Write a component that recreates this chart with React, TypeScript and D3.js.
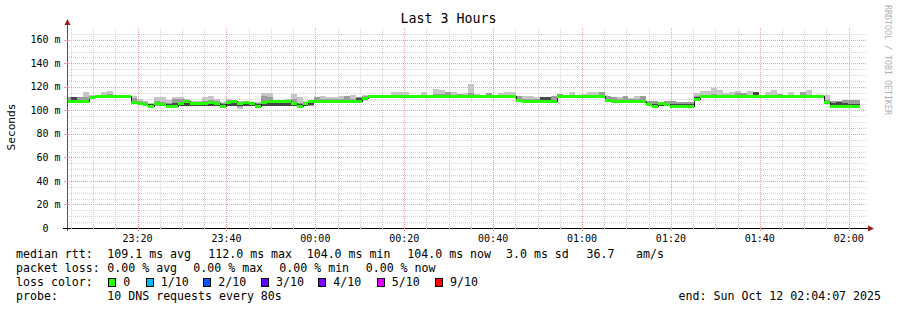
import React from 'react';
import * as d3 from 'd3';

// ---------- texts ----------
const titleText = 'Last 3 Hours';
const yAxisTitle = 'Seconds';
const creditText = 'RRDTOOL / TOBI OETIKER';

// ---------- time range ----------
const rangeStart = new Date(2025, 9, 11, 23, 4, 7);
const rangeEnd = new Date(2025, 9, 12, 2, 4, 7);
const firstStepStart = new Date(2025, 9, 11, 23, 3, 47);
const stepSeconds = 80;

// ---------- y ticks ----------
const yTickValues = [0, 20, 40, 60, 80, 100, 120, 140, 160];
const yTickLabels = ['0', '20 m', '40 m', '60 m', '80 m', '100 m', '120 m', '140 m', '160 m'];

// ---------- series (ms), one value per 80 s step ----------
const medianRtt = [
  108, 108, 108, 108, 111, 112, 112, 112, 112, 112,
  112, 107, 106, 105, 104, 106, 105, 104, 104, 106,
  108, 106, 106, 106, 107, 106, 104, 107, 108, 106,
  107, 106, 104, 107, 108, 108, 108, 108, 106, 104,
  106, 108, 108, 108, 108, 108, 108, 108, 108, 108,
  110.5, 112, 112, 112, 112, 112, 112, 112, 112, 112,
  112, 112, 112, 112, 112, 112, 112, 112, 112, 112,
  112, 112, 112, 112, 112, 112, 109, 108, 108, 108,
  108, 108, 108, 112, 112, 112, 112, 112, 112, 112,
  112, 109, 108, 108, 108, 108, 108, 108, 105, 104,
  106, 105, 104, 104, 104, 104, 110, 112, 112, 112,
  112, 112, 112, 112, 112, 112, 112, 112, 112, 112,
  112, 112, 112, 112, 112, 112, 112, 112, 107, 104,
  104, 104, 104, 104,
];

const smokeLightLo = [
  107, 107, 107, 107, 110, 111.5, 111.5, 111.5, 111.5, 111.5,
  111.5, 106, 105, 104, 103.5, 104, 104, 103.5, 103.5, 103.5,
  104, 104, 104, 104, 104, 104, 103.5, 104, 104, 101.5,
  104, 104, 103.5, 104, 104, 104, 104, 104, 104, 103.5,
  104, 104, 107, 107, 107, 107, 107, 107, 107, 107,
  108, 111.5, 111.5, 111.5, 111.5, 111.5, 111.5, 111.5, 111.5, 111.5,
  111.5, 111.5, 111.5, 111.5, 111.5, 111.5, 111.5, 111.5, 111.5, 111.5,
  111.5, 111.5, 111.5, 111.5, 111.5, 111.5, 107.5, 107, 107, 107,
  107, 107, 107, 111.5, 111.5, 111.5, 111.5, 111.5, 111.5, 111.5,
  111.5, 108, 107, 107, 107, 107, 107, 107, 104, 103.5,
  104, 104, 103.5, 103.5, 103.5, 103.5, 108, 111.5, 111.5, 111.5,
  111.5, 111.5, 111.5, 111.5, 111.5, 111.5, 111.5, 111.5, 111.5, 111.5,
  111.5, 111.5, 111.5, 111.5, 111.5, 111.5, 111.5, 111.5, 106, 103.5,
  103.5, 103.5, 103.5, 103.5,
];

const smokeLightHi = [
  111, 111.5, 111.5, 116, 113, 112.5, 115.5, 116.5, 112.5, 112.5,
  112.5, 112, 110, 108, 106, 111, 111, 109, 111.5, 111.5,
  110, 108, 108, 111.5, 112, 110, 107, 110, 109, 108,
  108, 107, 107, 115, 115, 109, 109, 110, 114, 111,
  108, 109, 111, 112, 111, 111, 112.5, 112, 113, 111,
  113, 112.5, 112.5, 112.5, 112.5, 116, 116, 116, 113, 112.5,
  116, 112.5, 118, 117, 116, 116, 114, 115, 122, 114,
  113, 115, 112.5, 115, 116, 116, 112, 112, 112, 111.5,
  111.5, 111.5, 112, 114, 112.5, 116, 112.5, 113.5, 116, 116,
  116, 112, 111.5, 111.5, 112, 110.5, 112, 112, 108, 108,
  107.5, 108, 108, 107.5, 107.5, 107.5, 115, 116.5, 116.5, 119,
  117.5, 115, 116, 116.5, 115, 116.5, 116, 112.5, 116, 117,
  114, 112.5, 116, 112.5, 115.5, 117, 112.5, 112.5, 113, 108,
  108, 108.5, 108.5, 108.5,
];

const smokeMidLo = [
  107, 107, 107, 107, 110, 111.5, 111.5, 111.5, 111.5, 111.5,
  111.5, 106, 105, 104, 103.5, 104, 104, 103.5, 103.5, 103.5,
  104, 104, 104, 104, 104, 104, 103.5, 104, 104, 103,
  104, 104, 103.5, 104, 104, 104, 104, 104, 104, 103.5,
  104, 104, 107, 107, 107, 107, 107, 107, 107, 107,
  109, 111.5, 111.5, 111.5, 111.5, 111.5, 111.5, 111.5, 111.5, 111.5,
  111.5, 111.5, 111.5, 111.5, 111.5, 111.5, 111.5, 111.5, 111.5, 111.5,
  111.5, 111.5, 111.5, 111.5, 111.5, 111.5, 108, 107, 107, 107,
  107, 107, 107, 111.5, 111.5, 111.5, 111.5, 111.5, 111.5, 111.5,
  111.5, 108, 107, 107, 107, 107, 107, 107, 104, 103.5,
  104, 104, 103.5, 103.5, 103.5, 103.5, 108.5, 111.5, 111.5, 111.5,
  111.5, 111.5, 111.5, 111.5, 111.5, 111.5, 111.5, 111.5, 111.5, 111.5,
  111.5, 111.5, 111.5, 111.5, 111.5, 111.5, 111.5, 111.5, 106, 103.5,
  103.5, 103.5, 103.5, 103.5,
];

const smokeMidHi = [
  111, 111.5, 111, 111, 112.5, 112.5, 113, 114, 112.5, 112.5,
  112.5, 110.5, 108, 107, 105.5, 108, 107, 106, 110, 110,
  109, 107, 107, 108, 109, 108, 106, 109, 108.5, 107,
  107.5, 107, 106, 112, 111, 108.5, 108.5, 109, 110, 106,
  107, 108.5, 111, 110, 109.5, 109.5, 110, 112, 110, 111,
  112, 112.5, 112.5, 112.5, 112.5, 113, 113, 113, 112.5, 112.5,
  113, 112.5, 114, 114, 116, 113, 114, 113, 115, 113,
  112.5, 115, 112.5, 113, 113, 113, 112, 110, 110, 110,
  111.5, 111.5, 112, 114, 112.5, 113, 112.5, 112.5, 113, 113,
  116, 112, 111.5, 110, 112, 109.5, 110, 112, 108, 108,
  107.5, 108, 108, 107.5, 107.5, 107.5, 112, 113, 113, 114,
  113, 113, 113, 114.5, 115, 113, 115.5, 112.5, 113, 113,
  114, 112.5, 113, 112.5, 115.5, 113, 112.5, 112.5, 109, 108,
  108, 108.5, 108.5, 108.5,
];

const smokeDarkLo = [
  107.5, 107, 107.5, 107.5, 110.5, 112, 112, 112, 112, 112,
  112, 106, 105, 104, 103.5, 104.5, 104, 103.5, 103.5, 103.5,
  104, 104, 104, 104, 104, 104, 103.5, 104, 104, 104,
  104, 104, 103.5, 104, 104, 104, 104, 104, 104, 103.5,
  104, 104.5, 107.5, 107.5, 107.5, 107.5, 107.5, 107.5, 107.5, 107,
  109.5, 112, 112, 112, 112, 112, 112, 112, 112, 112,
  112, 112, 112, 112, 112, 112, 112, 112, 112, 112,
  112, 112, 112, 112, 112, 112, 108.5, 107.5, 107.5, 107.5,
  107.5, 107.5, 107.5, 112, 112, 112, 112, 112, 112, 112,
  112, 108.5, 107.5, 107.5, 107.5, 107.5, 107.5, 107.5, 104, 103.5,
  104, 104.5, 103.5, 103.5, 103.5, 103.5, 109, 112, 112, 112,
  112, 112, 112, 112, 112, 112, 112, 112, 112, 112,
  112, 112, 112, 112, 112, 112, 112, 112, 106.5, 103.5,
  103.5, 104, 103.5, 103.5,
];

const smokeDarkHi = [
  109, 111.5, 109, 109, 111.5, 112, 112, 112, 112, 112,
  112, 108, 107, 106, 105, 107, 106, 105, 106.5, 107.5,
  108.5, 107, 107, 107, 108, 107, 105, 108, 108, 107,
  107, 106.5, 105, 108, 108.5, 108, 108, 108, 107, 105,
  106.5, 108.5, 109, 109, 109, 109, 109, 109, 109, 110.5,
  111.5, 112, 112, 112, 112, 112, 112, 112, 112, 112,
  112, 112, 112, 112, 112, 112, 112, 112, 112, 112,
  112, 112, 113, 112, 112, 112, 110, 109, 109, 109,
  111.5, 111.5, 109, 112, 112, 112, 112, 112, 112, 112,
  112, 110, 109, 109, 109, 109, 109, 109, 106.5, 105,
  107, 106, 105, 105, 105, 105, 111, 112, 112, 112,
  112, 112, 112, 112, 112, 112, 115.5, 112, 112, 112,
  112, 112, 112, 112, 112, 112, 112, 112, 108, 106,
  107, 106, 105, 105,
];

// ---------- legend ----------
const rttLabel = 'median rtt:';
const rttStats = ['109.1 ms avg', '112.0 ms max', '104.0 ms min', '104.0 ms now', '3.0 ms sd', '36.7', 'am/s'];
const lossLabel = 'packet loss:';
const lossStats = ['0.00 % avg', '0.00 % max', '0.00 % min', '0.00 % now'];
const lossColorLabel = 'loss color:';
const lossLabels = ['0', '1/10', '2/10', '3/10', '4/10', '5/10', '9/10'];
const lossColors = ['#26ff00', '#00b8ff', '#0059ff', '#5e00ff', '#7e00ff', '#dd00ff', '#ff0000'];
const probeLabel = 'probe:';
const probeText = '10 DNS requests every 80s';
const endText = 'end: Sun Oct 12 02:04:07 2025';

// ---------- layout (pixels) ----------
const W = 897;
const H = 310;
const PL = 67, PR = 867, PT = 28, PB = 228;
const RTT_X = [107.3, 208.3, 306.7, 407.3, 506, 586.5, 636];
const LOSS_X = [107.3, 193.3, 279.3, 365.7];
const BOX_X = [108.3, 145.7, 203.3, 261, 318.3, 376.7, 435];
const MONO = 'DejaVu Sans Mono';

export default function App() {
  const x = d3.scaleTime().domain([rangeStart, rangeEnd]).range([PL, PR]);
  const y = d3.scaleLinear().domain([0, 170]).range([PB, PT]);

  const steps = medianRtt.map((m, i) => {
    const t0 = new Date(firstStepStart.getTime() + i * stepSeconds * 1000);
    const t1 = new Date(t0.getTime() + stepSeconds * 1000);
    const xa = Math.round(Math.max(PL, x(t0)));
    const xb = Math.round(x(t1));
    return { i, m, xa, xb };
  });

  const band = (lo: number[], hi: number[], color: string, key: string) =>
    steps.map((s) => {
      const top = Math.round(y(hi[s.i]));
      const bot = Math.round(y(lo[s.i]));
      if (bot - top <= 0) return null;
      return <rect key={key + s.i} x={s.xa} y={top} width={s.xb - s.xa} height={bot - top} fill={color} />;
    });

  const stepPts: [number, number][] = steps.map((s) => [s.xa, Math.round(y(s.m)) + 0.5]);
  const last = steps[steps.length - 1];
  stepPts.push([last.xb, Math.round(y(last.m)) + 0.5]);
  const stepLine = d3.line().curve(d3.curveStepAfter)(stepPts) || '';

  const minorY = d3.range(5, 170, 5).filter((v) => v % 20 !== 0);
  const majorY = yTickValues.filter((v) => v > 0);
  const minorX = x.ticks(d3.timeMinute.every(5) as any).filter((t) => t.getMinutes() % 20 !== 0);
  const majorX = x.ticks(d3.timeMinute.every(20) as any);
  const fmt = d3.timeFormat('%H:%M');

  const gridMinor = '#d2d2d2';
  const gridMajor = '#eca0a0';
  const arrowColor = '#9b1c1c';

  return (
    <svg width={W} height={H} style={{ position: 'absolute', left: 0, top: 0, background: '#fff' }} fontFamily={MONO}>
      <rect x={0} y={0} width={W} height={H} fill="#fff" />
      <defs>
        <clipPath id="plotclip">
          <rect x={PL} y={PT} width={PR - PL} height={PB - PT} />
        </clipPath>
      </defs>

      {/* grid */}
      <g strokeWidth={1} strokeDasharray="1,1" shapeRendering="crispEdges">
        {minorY.map((v) => (
          <line key={'hy' + v} x1={PL} x2={PR} y1={Math.round(y(v)) + 0.5} y2={Math.round(y(v)) + 0.5} stroke={gridMinor} />
        ))}
        {minorX.map((t, k) => (
          <line key={'vx' + k} x1={Math.round(x(t)) + 0.5} x2={Math.round(x(t)) + 0.5} y1={PT} y2={PB} stroke={gridMinor} />
        ))}
        {majorY.map((v) => (
          <line key={'Hy' + v} x1={PL} x2={PR} y1={Math.round(y(v)) + 0.5} y2={Math.round(y(v)) + 0.5} stroke={gridMajor} />
        ))}
        {majorX.map((t, k) => (
          <line key={'Vx' + k} x1={Math.round(x(t)) + 0.5} x2={Math.round(x(t)) + 0.5} y1={PT} y2={PB} stroke={gridMajor} />
        ))}
      </g>

      {/* smoke + median */}
      <g clipPath="url(#plotclip)" shapeRendering="crispEdges">
        {band(smokeLightLo, smokeLightHi, '#c6c6c6', 'l')}
        {band(smokeMidLo, smokeMidHi, '#9c9c9c', 'm')}
        {band(smokeDarkLo, smokeDarkHi, '#474747', 'd')}
        <path d={stepLine} fill="none" stroke="#202020" strokeWidth={1} />
        {steps.map((s) => {
          const yc = Math.round(y(s.m));
          return <rect key={'g' + s.i} x={s.xa} y={yc - 1} width={s.xb - s.xa} height={3} fill={lossColors[0]} />;
        })}
      </g>

      {/* axes */}
      <g shapeRendering="crispEdges">
        <line x1={PL - 4} x2={PR + 2} y1={PB + 0.5} y2={PB + 0.5} stroke="#000" />
        <line x1={PL + 0.5} x2={PL + 0.5} y1={PB + 3} y2={PT - 3} stroke="#555" />
        {majorX.map((t, k) => (
          <line key={'tx' + k} x1={Math.round(x(t)) + 0.5} x2={Math.round(x(t)) + 0.5} y1={PB - 2} y2={PB + 3} stroke={gridMajor} />
        ))}
        {minorX.map((t, k) => (
          <line key={'tm' + k} x1={Math.round(x(t)) + 0.5} x2={Math.round(x(t)) + 0.5} y1={PB - 1} y2={PB + 2} stroke={gridMinor} />
        ))}
        {yTickValues.map((v) => (
          <line key={'ty' + v} x1={PL - 3} x2={PL + 3} y1={Math.round(y(v)) + 0.5} y2={Math.round(y(v)) + 0.5} stroke={v === 0 ? '#000' : gridMajor} />
        ))}
      </g>
      <polygon points={`${PR + 7},${PB + 0.5} ${PR + 1},${PB - 2.5} ${PR + 1},${PB + 3.5}`} fill={arrowColor} />
      <polygon points={`${PL + 0.5},${PT - 9} ${PL - 2.5},${PT - 3} ${PL + 3.5},${PT - 3}`} fill={arrowColor} />

      {/* axis labels */}
      <g fontSize={10} fill="#000" style={{ whiteSpace: 'pre' }}>
        {yTickValues.map((v, k) => (
          <text key={'yl' + v} x={yTickLabels[k].includes(' ') ? 60.5 : 48.5} y={y(v) + 3.6} textAnchor="end">
            {yTickLabels[k]}
          </text>
        ))}
        {majorX.map((t, k) => (
          <text key={'xl' + k} x={x(t)} y={241.5} textAnchor="middle">
            {fmt(t)}
          </text>
        ))}
      </g>

      <text x={448.5} y={23} fontSize={13.3} textAnchor="middle" fill="#000">{titleText}</text>
      <text transform="translate(15,127) rotate(-90)" fontSize={11.2} textAnchor="middle" fill="#000">{yAxisTitle}</text>
      <text transform="translate(884.5,5) rotate(90)" fontSize={8.3} fill="#b0b0b0">{creditText}</text>

      {/* legend */}
      <g fontSize={11.6} fill="#000" style={{ whiteSpace: 'pre' }}>
        <text x={16} y={258.3}>{rttLabel}</text>
        {rttStats.map((s, k) => (
          <text key={'rs' + k} x={RTT_X[k]} y={258.3}>{s}</text>
        ))}
        <text x={16} y={272.3}>{lossLabel}</text>
        {lossStats.map((s, k) => (
          <text key={'ls' + k} x={LOSS_X[k]} y={272.3}>{s}</text>
        ))}
        <text x={16} y={286.3}>{lossColorLabel}</text>
        {lossLabels.map((s, k) => (
          <g key={'lc' + k}>
            <rect x={Math.round(BOX_X[k]) + 0.5} y={278.5} width={7} height={8} fill={lossColors[k]} stroke="#000" strokeWidth={1} shapeRendering="crispEdges" />
            <text x={BOX_X[k] + 15} y={286.3}>{s}</text>
          </g>
        ))}
        <text x={16} y={300.3}>{probeLabel}</text>
        <text x={107.3} y={300.3}>{probeText}</text>
        <text x={881} y={300.3} textAnchor="end">{endText}</text>
      </g>
    </svg>
  );
}
